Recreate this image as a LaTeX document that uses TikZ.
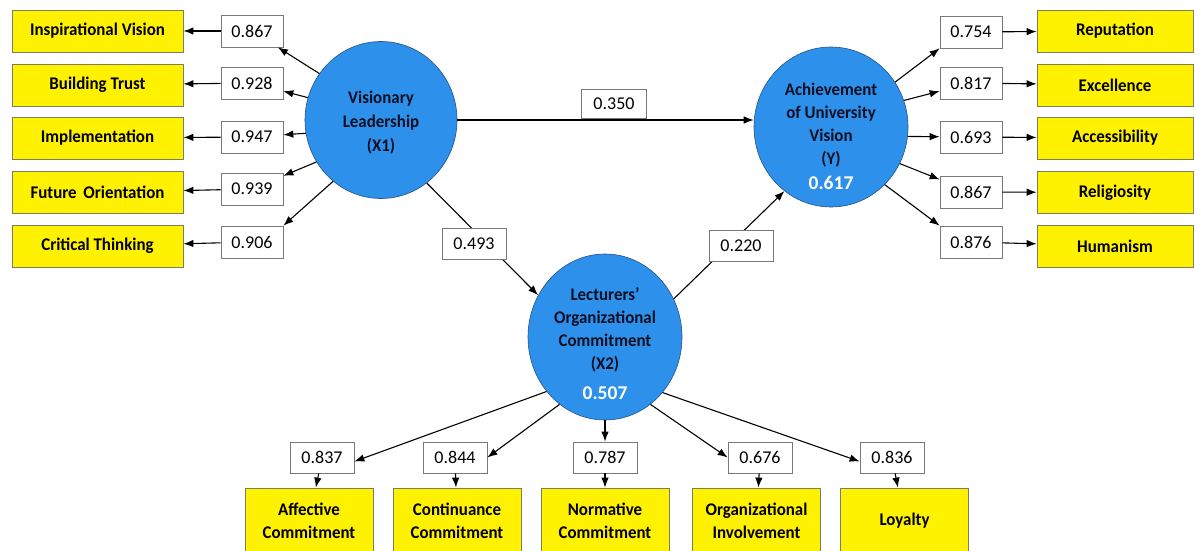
\documentclass[tikz,border=0pt]{standalone}
\usepackage{fontspec}
\setmainfont{Carlito}
\newfontfamily\labfont{Carlito}[FakeStretch=0.95]
\usetikzlibrary{shapes.geometric,arrows.meta}
\definecolor{latblue}{RGB}{45,145,235}
\definecolor{latedge}{RGB}{40,80,130}
\definecolor{indyel}{RGB}{255,242,0}
\definecolor{yelborder}{RGB}{125,125,95}
\definecolor{valborder}{RGB}{120,120,120}
\definecolor{txtdark}{RGB}{15,15,35}
\begin{document}
\begin{tikzpicture}[x=1pt,y=-1pt,
  ind/.style={draw=yelborder, fill=indyel, line width=0.8pt, inner sep=0pt,
    font=\labfont\fontsize{17.8}{22.5}\selectfont\bfseries, align=center, text=black},
  indside/.style={ind, minimum height=42pt},
  indbot/.style={ind, minimum width=128pt, minimum height=66pt},
  val/.style={draw=valborder, fill=white, line width=0.7pt, inner sep=0pt,
    minimum width=62pt, minimum height=32pt, font=\fontsize{18}{20}\selectfont},
  valbot/.style={val, minimum width=64pt, minimum height=31pt},
  latent/.style={ellipse, draw=latedge, fill=latblue, line width=0.6pt, inner sep=0pt},
  lattext/.style={font=\labfont\fontsize{17.8}{23}\selectfont\bfseries, text=txtdark, align=center, inner sep=0pt},
  rsq/.style={font=\fontsize{19.5}{22}\selectfont\bfseries, text=white, inner sep=0pt},
  arr/.style={draw=black, line width=1.1pt, -{Latex[length=10pt,width=7.5pt]}}
]
\useasboundingbox (0,0) rectangle (1194,551);
\clip (0,0) rectangle (1194,551);
\fill[white] (0,0) rectangle (1194,551);

% latent variables
\node[latent, minimum width=152pt, minimum height=157pt] (X1) at (381,120) {};
\node[latent, minimum width=154pt, minimum height=160pt] (Y) at (831,127) {};
\node[latent, minimum width=154pt, minimum height=166pt] (X2) at (605,337) {};
\node[lattext, font=\labfont\fontsize{17.8}{24}\selectfont\bfseries] (X1t) at (381,123) {Visionary\\Leadership\\(X1)};
\node[lattext] (Yt) at (831,125) {Achievement\\of University\\Vision\\(Y)};
\node[rsq] (Yr) at (831,183) {0.617};
\node[lattext] (X2t) at (605,330) {Lecturers’\\Organizational\\Commitment\\(X2)};
\node[rsq] (X2r) at (605,393) {0.507};

% left indicators
\node[indside, minimum width=171pt] (L1) at (97.5,31) {Inspirational Vision};
\node[indside, minimum width=171pt] (L2) at (97.5,85) {Building Trust};
\node[indside, minimum width=171pt] (L3) at (97.5,138) {Implementation};
\node[indside, minimum width=171pt] (L4) at (97.5,192.5) {Future\ \,Orientation};
\node[indside, minimum width=171pt] (L5) at (97.5,246) {Critical Thinking};
\node[val] (lv1) at (252,31) {0.867};
\node[val] (lv2) at (252,83) {0.928};
\node[val] (lv3) at (252,137) {0.947};
\node[val] (lv4) at (252,189) {0.939};
\node[val] (lv5) at (252,242) {0.906};

% right indicators
\node[indside, minimum width=156pt] (R1) at (1115,31) {Reputation};
\node[indside, minimum width=156pt] (R2) at (1115,85) {Excellence};
\node[indside, minimum width=156pt] (R3) at (1115,138) {Accessibility};
\node[indside, minimum width=156pt] (R4) at (1115,192.5) {Religiosity};
\node[indside, minimum width=156pt] (R5) at (1115,246) {Humanism};
\node[val] (rv1) at (971,32) {0.754};
\node[val] (rv2) at (971,83) {0.817};
\node[val] (rv3) at (971,137) {0.693};
\node[val] (rv4) at (971,192) {0.867};
\node[val] (rv5) at (971,242) {0.876};

% bottom indicators
\node[indbot] (B1) at (309,521) {Affective\\Commitment};
\node[indbot] (B2) at (457,521) {Continuance\\Commitment};
\node[indbot] (B3) at (605,521) {Normative\\Commitment};
\node[indbot] (B4) at (756.5,521) {Organizational\\Involvement};
\node[indbot] (B5) at (904.5,521) {Loyalty};
\node[valbot] (bv1) at (322,457.5) {0.837};
\node[valbot] (bv2) at (455,457.5) {0.844};
\node[valbot] (bv3) at (605,457.5) {0.787};
\node[valbot] (bv4) at (760,457.5) {0.676};
\node[valbot] (bv5) at (892,457.5) {0.836};

% left loadings
\draw[arr] (X1.143) -- (lv1);
\draw[arr] (X1.163) -- (lv2);
\draw[arr] (X1.190) -- (lv3);
\draw[arr] (X1.213) -- (lv4);
\draw[arr] (X1.232) -- (lv5.north east);
\foreach \i in {1,...,5}{\draw[arr] (lv\i) -- (L\i);}

% right loadings
\draw[arr] (Y.35.5) -- (rv1.south west);
\draw[arr] (Y.20.5) -- (rv2);
\draw[arr] (Y.-7) -- (rv3);
\draw[arr] (Y.-28) -- (rv4);
\draw[arr] (Y.-47) -- (rv5.north west);
\foreach \i in {1,...,5}{\draw[arr] (rv\i) -- (R\i);}

% bottom loadings
\draw[arr] (X2.223.5) -- (bv1.-7);
\draw[arr] (X2.236) -- (bv2.east);
\draw[arr] (X2.south) -- (bv3.north);
\draw[arr] (X2.-56.5) -- (bv4.west);
\draw[arr] (X2.-44) -- (bv5.187);
\foreach \i in {1,...,5}{\draw[arr] (bv\i) -- (B\i);}

% structural paths
\draw[arr] (X1.east) -- (Y.west |- X1.east);
\node[val, minimum width=65pt, minimum height=29pt] (p1) at (614,104) {0.350};
\draw[arr] (X1.-54) -- (X2.148);
\node[val, minimum width=64pt, minimum height=31pt] (p2) at (474,243.5) {0.493};
\draw[arr] (X2.29.7) -- (Y.234);
\node[val, minimum width=64pt, minimum height=31pt] (p3) at (741,245.5) {0.220};
\end{tikzpicture}
\end{document}
